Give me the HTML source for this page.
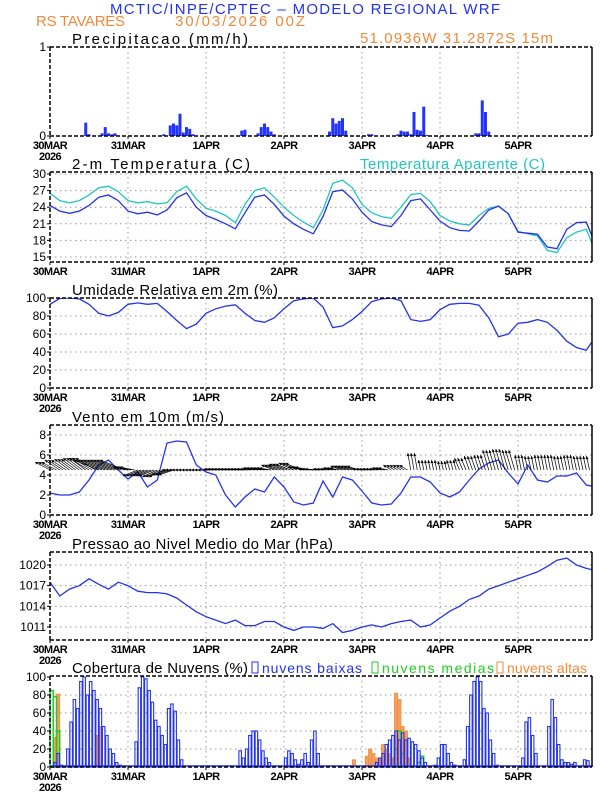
<!DOCTYPE html>
<html><head><meta charset="utf-8"><style>
html,body{margin:0;padding:0;background:#fff;}
svg{display:block;font-family:"Liberation Sans",sans-serif;}
.tl{font-size:11px;font-weight:bold;fill:#000;letter-spacing:-0.6px;}
.tt{font-size:15px;}
</style></head><body>
<svg id="chart" width="612" height="792" viewBox="0 0 612 792">
<text x="110" y="14" textLength="390" lengthAdjust="spacing" fill="#2233ee" font-size="15">MCTIC/INPE/CPTEC – MODELO REGIONAL WRF</text>
<text x="36" y="26" textLength="89" lengthAdjust="spacing" fill="#f08a3a" font-size="15">RS TAVARES</text>
<text x="175" y="26" textLength="130" lengthAdjust="spacing" fill="#f08a3a" font-size="15">30/03/2026 00Z</text>
<text x="360" y="43" textLength="193" lengthAdjust="spacing" fill="#f08a3a" font-size="15">51.0936W 31.2872S 15m</text>
<g id="panels"></g>
</svg>
<script>
const dayLabels=["30MAR","31MAR","1APR","2APR","3APR","4APR","5APR"];
const precipHours=[11,12,16,17,18,19,20,35,37,38,39,40,41,42,43,44,59,60,64,65,66,67,68,69,82,86,87,88,89,90,91,98,99,107,108,109,110,111,112,113,114,115,116,131,132,133,134,135];
const precipVals=[0.15,0.02,0.03,0.1,0.03,0.02,0.03,0.02,0.12,0.14,0.12,0.25,0.04,0.1,0.08,0.02,0.06,0.07,0.03,0.1,0.14,0.1,0.05,0.02,0.01,0.05,0.2,0.14,0.17,0.2,0.06,0.02,0.02,0.02,0.06,0.05,0.05,0.02,0.27,0.07,0.06,0.33,0.01,0.03,0.03,0.4,0.27,0.05];
const tempVals=[24.3,23.3,22.9,23.3,24.3,25.8,26.2,25.2,23.3,22.8,23.1,22.6,23.5,25.7,26.6,24,22.5,21.8,21,20.1,23,25.8,26.2,24.5,22.4,21,20,19.2,22.3,26.8,27.1,25.5,23.1,21.4,20.8,20.5,22.5,25.2,25.5,23.5,21.5,20.3,19.8,19.7,21.5,23.5,24.2,22.8,19.5,19.3,19.1,16.8,16.5,20,21.2,21.3,17];
const apparentVals=[26.5,25.2,24.8,25.2,26.2,27.5,27.8,26.8,25.2,24.8,25,24.6,24.8,26.8,27.8,25.5,23.8,23.3,22.5,21.2,24.5,27,27.5,25.8,24,22.5,21.3,20.3,23.5,28.3,28.9,27.5,24.5,23,22.3,22,24,26.3,26.5,25,22.5,21.5,21,20.8,22.5,23.8,24.2,22.8,19.6,19.2,18.8,16.2,15.8,18.5,19.5,20,15.7];
const rhVals=[93,99.5,100,99,93,83,80,84,93,94.5,93,94,85,75,66,71,83,88,91,92.5,83,75,73,78,88,97,99,100,90,67,69,76,85,96,99,100,97,76,74,76,87,93,94,94,92,78,57,60,72,73,76,73,64,52,45,42,58];
const windSpeed=[2.2,2.0,2.0,2.3,3.5,5.0,5.5,4.5,3.6,4.3,2.8,3.5,7.2,7.4,7.3,5.0,4.3,4.0,2.0,0.8,1.8,2.6,2.3,3.8,2.8,1.3,1.0,1.2,3.4,1.8,3.8,3.5,2.4,1.2,1.0,1.1,2.2,3.8,3.8,3.3,2.2,1.8,2.3,3.5,4.6,5.2,5.5,4.2,3.1,5.0,3.5,3.3,3.9,3.9,4.2,3.0,2.8];
const windU=[-1.5,-1.5,-1.5,-1.6,-2,-2.5,-2.5,-2.5,-1.5,-1.5,-1.5,-1.5,-1.5,-1.5,-1.5,-1.5,-1.5,-1.2,-1.2,-1.2,-1.2,-1.2,-1.2,-1.3,-1.5,-1.5,-1.5,-1.5,-1,-1,-1.2,-1.2,-1,-1,-1,-0.8,-0.8,-0.3,-0.2,-0.2,-0.2,-0.3,-0.5,-0.5,-0.5,-0.6,-0.6,-0.6,-0.3,-0.3,-0.3,-0.3,-0.3,-0.3,-0.3,-0.3,-0.3];
const windV=[0.8,1.0,1.1,1.2,1.2,1.0,1.0,1.0,0.3,-0.6,-0.6,-0.7,-0.5,0,0,0,0,0.1,0.1,0.1,0.1,0.2,0.2,0.5,0.6,0.7,0.3,0.1,0.1,0.2,0.4,0.4,0.1,0.1,0.2,0.5,0.5,1.7,1.0,1.0,0.9,1.0,1.2,1.4,1.5,2.0,2.1,2.0,1.5,1.4,1.5,1.5,1.4,1.5,1.4,1.4,1.3];
const pressVals=[1017.5,1015.5,1016.5,1017,1018,1017.2,1016.5,1017.5,1017,1016.2,1016,1016,1015.8,1015.2,1014.2,1013.2,1012.5,1012,1011.5,1012,1011.2,1011.2,1011.8,1011.8,1011,1010.5,1011,1011,1010.8,1011.5,1010.2,1010.5,1011,1011.3,1011,1011.5,1011.8,1012,1011,1011.3,1012.3,1013.3,1014,1015,1015.5,1016.5,1017,1017.5,1018,1018.5,1019,1019.8,1020.7,1021,1020,1019.5,1019.2];
const lowClouds=[0,5,15,2,0,20,50,75,65,95,100,80,95,85,75,65,45,35,20,15,5,2,0,0,0,0,28,88,100,98,85,72,52,45,35,25,65,70,62,30,8,0,0,0,0,0,0,0,0,0,0,0,0,0,0,0,0,0,18,10,20,35,40,40,30,18,10,5,0,0,0,0,10,18,15,8,3,8,15,5,30,40,15,0,0,0,0,0,0,0,0,0,0,0,0,0,0,0,0,0,5,10,15,25,30,35,40,30,38,30,32,28,25,18,10,5,0,0,2,10,25,25,15,5,2,0,0,8,45,80,95,100,95,65,60,30,15,2,0,0,0,0,0,0,0,10,50,55,35,15,0,0,0,45,75,55,25,8,5,5,3,5,0,0,8,7,0,0];
const medHours=[0,1,2,106,107,108,113,114];
const medVals=[85,78,40,20,40,15,5,12];
const highHours=[1,2,14,15,93,97,98,99,100,101,102,103,104,105,106,107,108,109,110];
const highVals=[33,81,35,45,8,12,20,15,10,10,25,20,15,10,82,75,45,40,10];

const NS="http://www.w3.org/2000/svg";
const root=document.getElementById('panels');
const X0=50,X1=592,PXH=3.25;
function xh(h){return X0+h*PXH;}
function mk(tag,attrs,parent){const e=document.createElementNS(NS,tag);for(const k in attrs)e.setAttribute(k,attrs[k]);(parent||root).appendChild(e);return e;}
function panel(name,top,bot,v0,y0,v1,y1,ticks,title,tlen,showYear){
  const g=mk('g',{});
  
  
  const sy=v=>y0+(v-v0)*(y1-y0)/(v1-v0);
  for(let d=1;d<7;d++){const l=mk('line',{x1:X0+d*78,x2:X0+d*78,y1:top,y2:bot,stroke:'#999','stroke-dasharray':'1.5,3.5'},g);
    }
  ticks.forEach(t=>{const y=sy(t);
    if(y>top+1&&y<bot-1){const l=mk('line',{x1:X0,x2:X1,y1:y,y2:y,stroke:'#999','stroke-dasharray':'1.5,3.5'},g);
      }
    const tx=mk('text',{x:X0-4,y:y+4,'text-anchor':'end','font-size':'12'},g);tx.textContent=t;
    
    mk('line',{x1:X0-3,x2:X0,y1:y,y2:y,stroke:'#000'},g);
  });
  dayLabels.forEach((d,i)=>{const t=mk('text',{x:X0+i*78,y:bot+13,'text-anchor':'middle',class:'tl'},g);t.textContent=d;
    
    mk('line',{x1:X0+i*78,x2:X0+i*78,y1:bot,y2:bot+3,stroke:'#000'},g);});
  if(showYear){const t=mk('text',{x:X0,y:bot+24,'text-anchor':'middle',class:'tl'},g);t.textContent='2026';
    }
  const tt=mk('text',{x:72,y:top-3,class:'tt',fill:'#000',textLength:tlen,lengthAdjust:'spacing'},g);tt.textContent=title;
  
  return {g,sy,top,bot};
}
function frame(p){
  mk('line',{x1:X0,x2:X1,y1:p.top,y2:p.top,stroke:'#000','stroke-width':1.5,'stroke-dasharray':'4,2'},p.g);
  mk('line',{x1:X0,x2:X1,y1:p.bot,y2:p.bot,stroke:'#000','stroke-width':1.5,'stroke-dasharray':'4,2'},p.g);
  mk('line',{x1:X0,x2:X0,y1:p.top,y2:p.bot,stroke:'#000','stroke-width':1.5,'stroke-dasharray':'4,2'},p.g);
  mk('line',{x1:X1,x2:X1,y1:p.top,y2:p.bot,stroke:'#000','stroke-width':1.5},p.g);
}
function line(p,vals,color,name){
  const pts=vals.map((v,i)=>xh(i*3).toFixed(1)+','+p.sy(v).toFixed(1)).join(' ');
  const cp=mk('clipPath',{id:'c'+name},p.g);mk('rect',{x:X0,y:p.top,width:X1-X0,height:p.bot-p.top},cp);
  const l=mk('polyline',{points:pts,fill:'none',stroke:color,'stroke-width':1.3,'clip-path':'url(#c'+name+')'},p.g);
  
}
// Precip
const p1=panel('precip',47,136,0,136,1,47,[0,1],'Precipitacao (mm/h)',176,true);
precipHours.forEach((h,i)=>{const y=p1.sy(precipVals[i]);
  const r=mk('rect',{x:xh(h)-1.5,y:y,width:3,height:p1.bot-y,fill:'#2233ff'},p1.g);
  });
frame(p1);
// Temp
const p2=panel('temperature',172,262,15,257,30,174,[15,18,21,24,27,30],'2-m Temperatura (C)',178,false);
const at=mk('text',{x:360,y:169,class:'tt',fill:'#22c6c0',textLength:185,lengthAdjust:'spacing'},p2.g);at.textContent='Temperatura Aparente (C)';

line(p2,apparentVals,'#22c6c0','apparent-temp-line');
line(p2,tempVals,'#2233ee','temp-line');
frame(p2);
// RH
const p3=panel('humidity',298,388,0,388,100,298,[0,20,40,60,80,100],'Umidade Relativa em 2m (%)',206,true);
line(p3,rhVals,'#2233ee','rh-line');
frame(p3);
// Wind
const p4=panel('wind',425,515,0,515,8,435,[0,2,4,6,8],'Vento em 10m (m/s)',152,true);
line(p4,windSpeed,'#2233ee','wind-speed-line');
windU.forEach((u,i)=>{for(let k=0;k<3;k++){const h=i*3+k;const x=xh(h);if(x>X1-2)continue;const y=p4.sy(4.5),tx=x+u*10,ty=y-windV[i]*10;
  const a=mk('line',{x1:x,y1:y,x2:tx,y2:ty,stroke:'#000','stroke-width':0.7},p4.g);
  
  
  const L=Math.hypot(tx-x,ty-y)||1,ux=(tx-x)/L,uy=(ty-y)/L;
  mk('polygon',{points:`${tx},${ty} ${tx-ux*3-uy*1.5},${ty-uy*3+ux*1.5} ${tx-ux*3+uy*1.5},${ty-uy*3-ux*1.5}`,fill:'#000'},p4.g);
}});
frame(p4);
// Pressure
const p5=panel('pressure',552,640,1011,627,1020,565,[1011,1014,1017,1020],'Pressao ao Nivel Medio do Mar (hPa)',261,true);
line(p5,pressVals,'#2233ee','pressure-line');
frame(p5);
// Clouds
const p6=panel('clouds',676,767,0,767,100,677,[0,20,40,60,80,100],'Cobertura de Nuvens (%)',176,true);
highHours.forEach((h,i)=>{const y=p6.sy(highVals[i]);const r=mk('rect',{x:xh(h),y:y,width:3.25,height:p6.bot-y,fill:'#f5a060',stroke:'#f08a3a','stroke-width':0.8},p6.g);
  });
medHours.forEach((h,i)=>{const y=p6.sy(medVals[i]);const r=mk('rect',{x:xh(h),y:y,width:3.25,height:p6.bot-y,fill:'none',stroke:'#22cc22','stroke-width':1.5},p6.g);
  });
lowClouds.forEach((v,h)=>{if(v<=0)return;const y=p6.sy(v);const r=mk('rect',{x:xh(h)+0.4,y:y,width:2.5,height:p6.bot-y,fill:'none',stroke:'#2233ee','stroke-width':1.1},p6.g);
  });
mk('line',{x1:X0,x2:X1,y1:p6.bot-1,y2:p6.bot-1,stroke:'#2233ee','stroke-width':1.5},p6.g);
frame(p6);
const leg=[['nuvens baixas','#2233ee',252,100],['nuvens medias','#22cc22',372,112],['nuvens altas','#f08a3a',497,80]];
leg.forEach(l=>{const r=mk('rect',{x:l[2],y:662,width:6,height:11,fill:'none',stroke:l[1],'stroke-width':1},p6.g);
  
  const t=mk('text',{x:l[2]+10,y:673,fill:l[1],'font-size':'14',textLength:l[3],lengthAdjust:'spacing'},p6.g);t.textContent=l[0];
  });
</script>
</body></html>
